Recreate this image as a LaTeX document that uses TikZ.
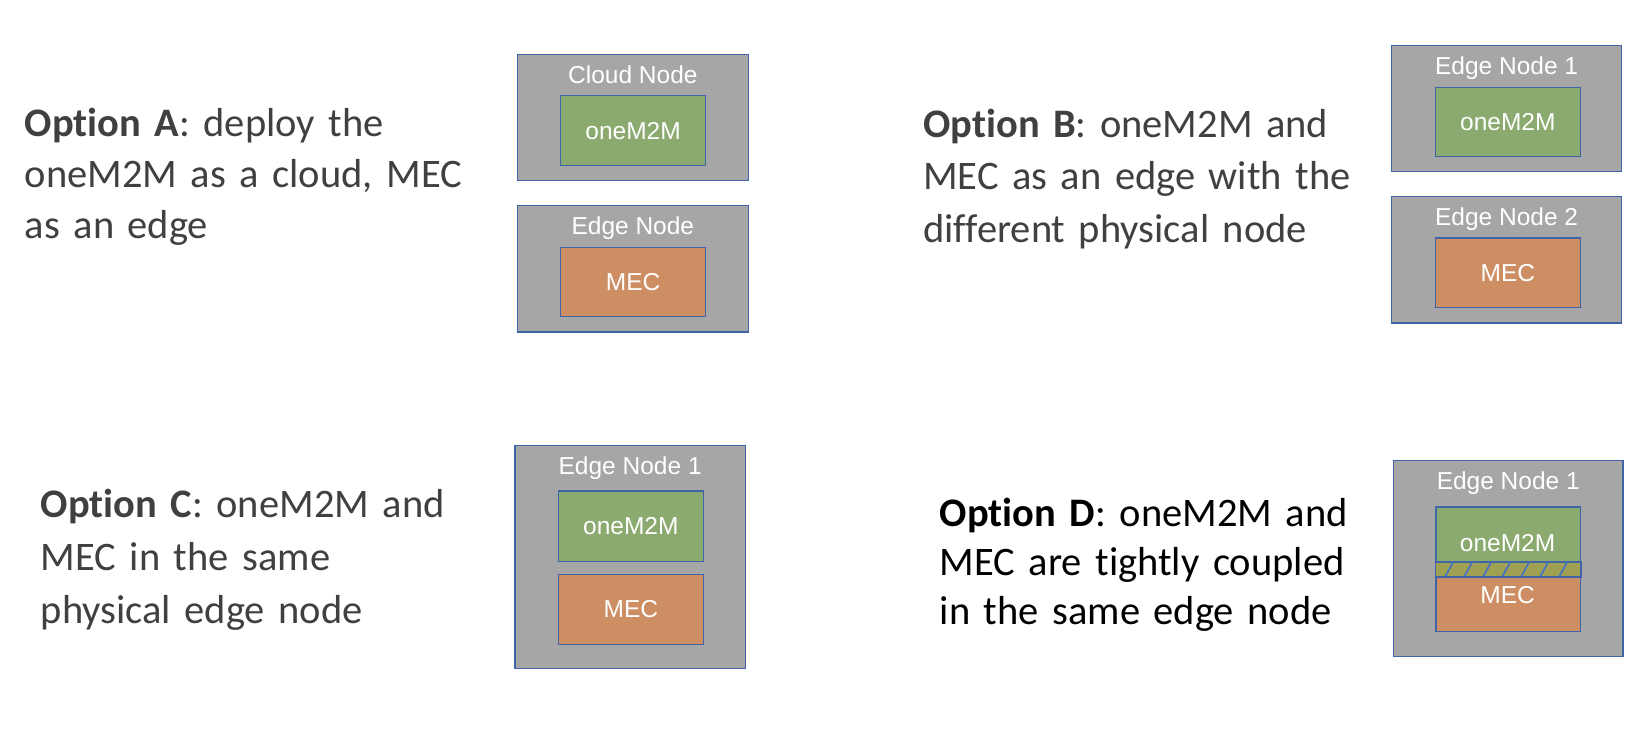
\documentclass[tikz,border=0pt]{standalone}
\usepackage{fontspec}
\setmainfont{Carlito}[Ligatures=NoCommon, WordSpace=0.85]
\newfontfamily\boxfont{Liberation Sans}
\definecolor{nodegray}{HTML}{A6A6A6}
\definecolor{frameblue}{HTML}{4064A8}
\definecolor{m2mgreen}{HTML}{8BAA70}
\definecolor{mecorange}{HTML}{CD8E64}
\definecolor{hatchfill}{HTML}{A0A052}
\definecolor{hatchblue}{HTML}{4472C4}
\definecolor{textgray}{HTML}{404040}
\tikzset{
  outerbox/.style={draw=frameblue, fill=nodegray, line width=1.2pt, inner sep=0pt, anchor=north west},
  m2mbox/.style={draw=frameblue, fill=m2mgreen, line width=1.2pt, inner sep=0pt, anchor=north west,
    text=white, font=\boxfont\fontsize{24.5}{28}\selectfont},
  mecbox/.style={draw=frameblue, fill=mecorange, line width=1.2pt, inner sep=0pt, anchor=north west,
    text=white, font=\boxfont\fontsize{24.5}{28}\selectfont},
  hatchbox/.style={draw=frameblue, fill=hatchfill, line width=1pt, inner sep=0pt, anchor=north west},
  boxlabel/.style={text=white, font=\boxfont\fontsize{24.5}{28}\selectfont, inner sep=0pt, anchor=base},
  optiontext/.style={text=textgray, font=\fontsize{40.5}{#1}\selectfont, inner sep=0pt,
    anchor=base west, text width=600pt, align=left},
}
\begin{document}
\begin{tikzpicture}[x=1pt, y=-1pt]
\useasboundingbox[fill=white] (0,0) rectangle (1650,733);

% ---------- Option A ----------
\node[optiontext=51] (textA) at (24.7,136.3)
  {\textbf{Option A}: deploy the\\oneM2M as a cloud, MEC\\as an edge};
\node[outerbox, minimum width=230.5pt, minimum height=126pt] (cloudA) at (517,54.3) {};
\node[boxlabel] (cloudAlbl) at ([yshift=-29.5pt]cloudA.north) {Cloud Node};
\node[m2mbox, minimum width=145pt, minimum height=70pt] (m2mA) at (560,95.3) {oneM2M};
\node[outerbox, minimum width=230.5pt, minimum height=126.3pt] (edgeA) at (517,205) {};
\node[boxlabel] (edgeAlbl) at ([yshift=-29.5pt]edgeA.north) {Edge Node};
\node[mecbox, minimum width=145pt, minimum height=69.3pt] (mecA) at (560,246.7) {MEC};

% ---------- Option B ----------
\node[optiontext=52.5] (textB) at (923,137.3)
  {\textbf{Option B}: oneM2M and\\MEC as an edge with the\\different physical node};
\node[outerbox, minimum width=230pt, minimum height=126pt] (edgeBa) at (1391,45) {};
\node[boxlabel] (edgeBalbl) at ([yshift=-29.6pt]edgeBa.north) {Edge Node 1};
\node[m2mbox, minimum width=144.5pt, minimum height=69.5pt] (m2mB) at (1435,86.7) {oneM2M};
\node[outerbox, minimum width=230pt, minimum height=126.3pt] (edgeBb) at (1391,196) {};
\node[boxlabel] (edgeBblbl) at ([yshift=-29.6pt]edgeBb.north) {Edge Node 2};
\node[mecbox, minimum width=144.5pt, minimum height=69.5pt] (mecB) at (1435,237.3) {MEC};

% ---------- Option C ----------
\node[optiontext=53] (textC) at (40.7,517.3)
  {\textbf{Option C}: oneM2M and\\MEC in the same\\physical edge node};
\node[outerbox, minimum width=230.5pt, minimum height=223pt] (edgeC) at (514.3,444.7) {};
\node[boxlabel] (edgeClbl) at ([yshift=-29.8pt]edgeC.north) {Edge Node 1};
\node[m2mbox, minimum width=144.5pt, minimum height=70.5pt] (m2mC) at (558,490.3) {oneM2M};
\node[mecbox, minimum width=144.5pt, minimum height=69.5pt] (mecC) at (558,574) {MEC};

% ---------- Option D ----------
\node[optiontext=49, text=black] (textD) at (939.7,526.3)
  {\textbf{Option D}: oneM2M and\\MEC are tightly coupled\\in the same edge node};
\node[outerbox, minimum width=229.3pt, minimum height=196pt] (edgeD) at (1393,460) {};
\node[boxlabel] (edgeDlbl) at ([yshift=-29.6pt]edgeD.north) {Edge Node 1};
\node[m2mbox, minimum width=144.7pt, minimum height=55.3pt] (m2mD) at (1435.3,506.3) {};
\node[mecbox, minimum width=144.7pt, minimum height=54.7pt] (mecD) at (1435.3,576) {};
\node[hatchbox, minimum width=144.7pt, minimum height=14.4pt] (hatchD) at (1435.3,561.6) {};
\begin{scope}
  \clip (hatchD.south west) rectangle (hatchD.north east);
  \foreach \k in {0,...,6}
    \draw[hatchblue, line width=1.7pt] ({1445.5+19*\k},576) -- ({1453.5+19*\k},561.6);
\end{scope}
\draw[frameblue, line width=1pt] (hatchD.south west) rectangle (hatchD.north east);
\node[boxlabel] (m2mDlbl) at (1507.6,551.5) {oneM2M};
\node[boxlabel] (mecDlbl) at (1507.6,603.8) {MEC};
\end{tikzpicture}
\end{document}
